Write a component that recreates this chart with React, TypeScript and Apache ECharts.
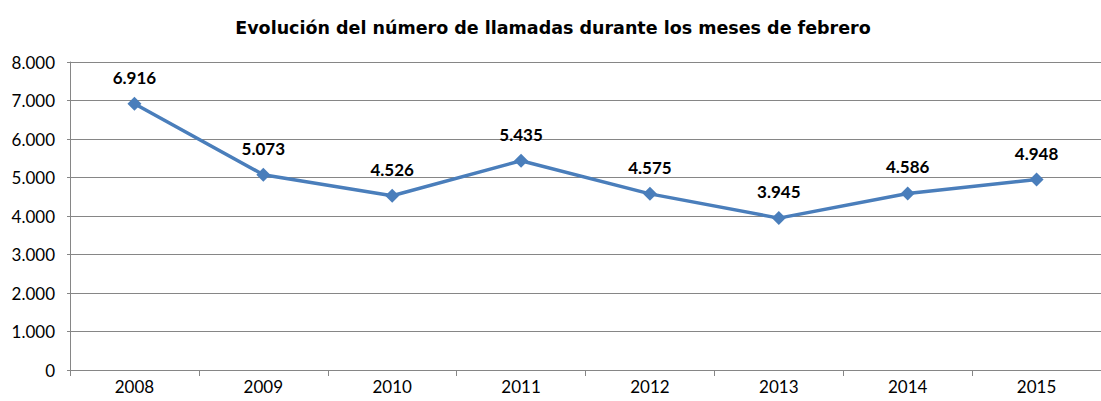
import React, { useEffect, useRef } from "react";
import * as echarts from "echarts";

const years = ["2008", "2009", "2010", "2011", "2012", "2013", "2014", "2015"];
const calls = [6916, 5073, 4526, 5435, 4575, 3945, 4586, 4948];
const yTicks = [0, 1000, 2000, 3000, 4000, 5000, 6000, 7000, 8000];

const fmt = (v: number) => {
  const s = String(Math.round(v));
  return s.replace(/\B(?=(\d{3})+(?!\d))/g, ".");
};

export default function App() {
  const ref = useRef<HTMLDivElement>(null);
  useEffect(() => {
    const chart = echarts.init(ref.current!, null, { renderer: "svg" });
    chart.setOption({
      animation: false,
      backgroundColor: "#ffffff",
      title: {
        text: "Evolución del número de llamadas durante los meses de febrero",
        left: 548,
        textAlign: "center",
        top: 14,
        textStyle: { fontFamily: "DejaVu Sans", fontWeight: "bold", fontSize: 17.5, color: "#000" },
      },
      grid: { left: 70, top: 62, width: 1040, height: 308, containLabel: false },
      xAxis: {
        type: "category",
        data: years,
        boundaryGap: true,
        axisLine: { lineStyle: { color: "#868686", width: 1 } },
        axisTick: { show: true, length: 6, lineStyle: { color: "#868686" } },
        axisLabel: { color: "#000", fontFamily: "Lato", fontSize: 17, margin: 8 },
        splitLine: { show: false },
      },
      yAxis: {
        type: "value",
        min: yTicks[0],
        max: yTicks[yTicks.length - 1],
        interval: 1000,
        axisLine: { show: true, lineStyle: { color: "#868686", width: 1 } },
        axisTick: { show: true, length: 3, lineStyle: { color: "#868686" } },
        axisLabel: { color: "#000", fontFamily: "Lato", fontSize: 17, margin: 15, formatter: (v: number) => fmt(v) },
        splitLine: { show: true, lineStyle: { color: "#868686", width: 1 } },
      },
      series: [
        {
          type: "line",
          data: calls,
          symbol: "diamond",
          symbolSize: 14,
          lineStyle: { color: "#4a7ebb", width: 3.5 },
          itemStyle: { color: "#4a7ebb" },
          label: {
            show: true,
            position: "top",
            distance: 11,
            fontFamily: "Lato",
            fontWeight: "bold",
            fontSize: 17,
            color: "#000",
            formatter: (p: any) => fmt(p.value),
          },
        },
      ],
    });
    return () => chart.dispose();
  }, []);
  return <div ref={ref} style={{ width: 1101, height: 401, position: "absolute", left: 0, top: 0 }} />;
}
